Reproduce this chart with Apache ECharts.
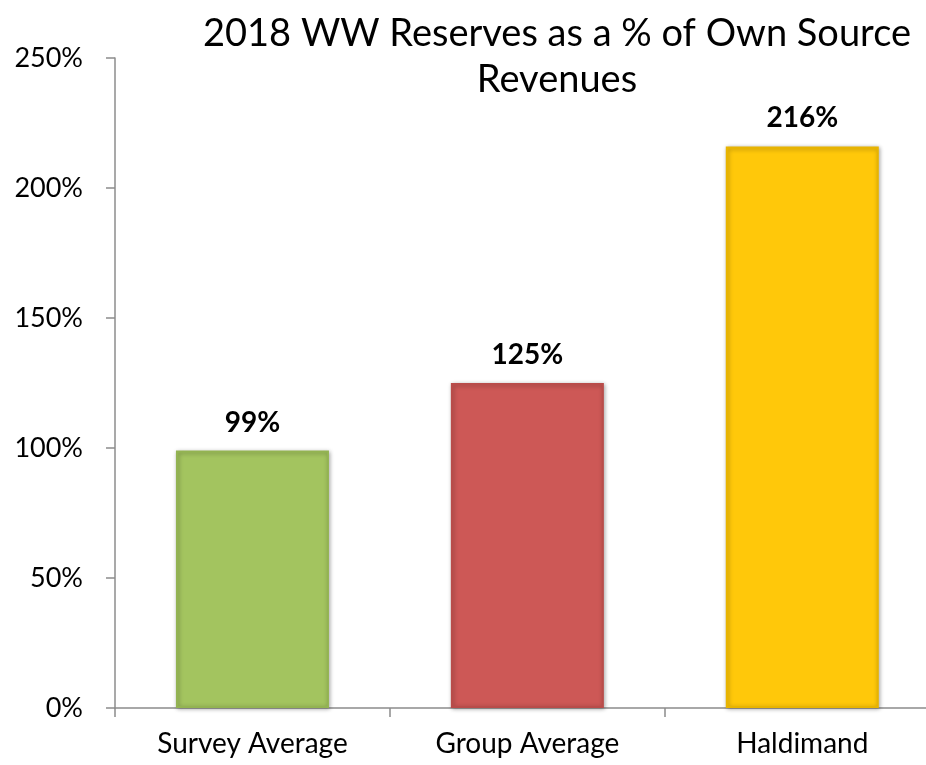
<!DOCTYPE html>
<html>
<head>
<meta charset="utf-8">
<script src="https://cdn.jsdelivr.net/npm/echarts@6/dist/echarts.min.js"></script>
<style>
  html, body { margin: 0; padding: 0; background: #fff; }
  #chart { width: 926px; height: 765px; }
</style>
</head>
<body>
<div id="chart"></div>
<script>
// Reserves as a share of own source revenues, 2018
const categories = ['Survey Average', 'Group Average', 'Haldimand'];
const reservePct = [99, 125, 216];
const barColors = ['#A3C45F', '#CD5856', '#FFC80A'];
const barEdges = ['#93B352', '#B94C4A', '#E8B400'];
const yTicks = { min: 0, max: 250, interval: 50 };

const FONT = 'Lato, "Open Sans", sans-serif';

// Category slots sit at 0, 1, 2 on a numeric x scale; the plot is cut at the
// right edge part-way through the last slot, so the scale ends a bit short of 2.5.
const slotIndex = categories.map((_, i) => i);
const slotBounds = [-0.5, 0.5, 1.5];

const chart = echarts.init(document.getElementById('chart'));
chart.setOption({
  backgroundColor: '#ffffff',
  animation: false,
  title: {
    text: '2018 WW Reserves as a % of Own Source\nRevenues',
    left: 552,
    top: 6,
    textAlign: 'center',
    textStyle: {
      fontFamily: FONT,
      fontSize: 38,
      fontWeight: 'normal',
      color: '#000',
      lineHeight: 46
    }
  },
  grid: { left: 115, right: 0, top: 58, bottom: 57 },
  xAxis: {
    type: 'value',
    min: -0.5,
    max: 2.45,
    splitLine: { show: false },
    axisLine: { show: true, onZero: false, lineStyle: { color: '#8c8c8c', width: 1.5 } },
    axisTick: {
      show: true,
      length: 9,
      customValues: slotBounds,
      lineStyle: { color: '#8c8c8c', width: 1.5 }
    },
    axisLabel: {
      color: '#000',
      fontFamily: FONT,
      fontSize: 28,
      margin: 22,
      customValues: slotIndex,
      formatter: v => categories[Math.round(v)]
    }
  },
  yAxis: {
    type: 'value',
    min: yTicks.min,
    max: yTicks.max,
    interval: yTicks.interval,
    splitLine: { show: false },
    axisLine: { show: true, onZero: false, lineStyle: { color: '#8c8c8c', width: 1.5 } },
    axisTick: { show: true, length: 9, lineStyle: { color: '#8c8c8c', width: 1.5 } },
    axisLabel: {
      color: '#000',
      fontFamily: FONT,
      fontSize: 27,
      margin: 32,
      formatter: v => v + '%'
    }
  },
  series: [{
    type: 'bar',
    barWidth: 153,
    data: reservePct.map((v, i) => ({
      value: [slotIndex[i], v],
      itemStyle: {
        color: barColors[i],
        borderColor: barEdges[i],
        borderWidth: 2,
        shadowColor: 'rgba(0,0,0,0.3)',
        shadowBlur: 4,
        shadowOffsetX: 1,
        shadowOffsetY: 1
      }
    })),
    label: {
      show: true,
      position: 'top',
      distance: 14,
      color: '#000',
      fontFamily: FONT,
      fontSize: 28,
      fontWeight: 'bold',
      formatter: p => p.value[1] + '%'
    }
  }]
});
</script>
</body>
</html>
